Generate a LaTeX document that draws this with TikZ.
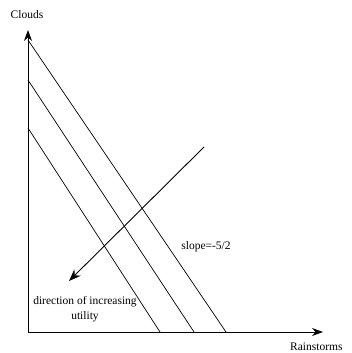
\documentclass[tikz,border=0pt]{standalone}
\usepackage{fontspec}
\setmainfont{Liberation Serif}
\usetikzlibrary{arrows.meta}
\begin{document}
\begin{tikzpicture}[x=1pt,y=-1pt,
  axis/.style={line width=0.8pt,-{Stealth[length=11pt,width=8pt]}},
  budget/.style={line width=0.7pt},
  dirarrow/.style={line width=0.9pt,-{Stealth[length=12pt,width=9pt]}},
  lbl/.style={font=\fontsize{11.5}{14.5}\selectfont,inner sep=0pt,align=center}]
\useasboundingbox (0,0) rectangle (352,353);
\coordinate (O) at (28,332);
\coordinate (Ytip) at (28,30);
\coordinate (Xtip) at (323,332);
\draw[axis] (O) -- (Ytip);
\draw[axis] (O) -- (Xtip);
\coordinate (a1) at (28,40);  \coordinate (b1) at (226,332);
\coordinate (a2) at (28,80);  \coordinate (b2) at (194,332);
\coordinate (a3) at (28,128); \coordinate (b3) at (160,332);
\draw[budget] (a1) -- (b1);
\draw[budget] (a2) -- (b2);
\draw[budget] (a3) -- (b3);
\coordinate (d1) at (204,147);
\coordinate (d2) at (69,281);
\draw[dirarrow] (d1) -- (d2);
\node[lbl] (clouds) at (27,15) {Clouds};
\node[lbl,anchor=west] (rain) at (290,347) {Rainstorms};
\node[lbl] (slope) at (206,247) {slope=-5/2};
\node[lbl] (dir) at (85,309) {direction of increasing\\utility};
\end{tikzpicture}
\end{document}
